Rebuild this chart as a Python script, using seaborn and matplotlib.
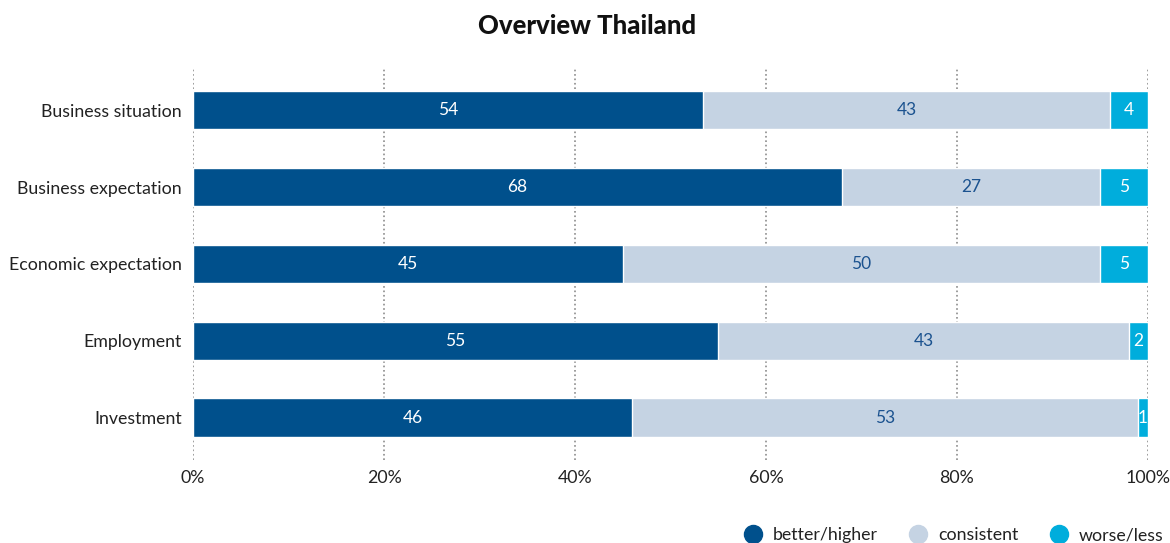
import numpy as np
import pandas as pd
import matplotlib.pyplot as plt
from matplotlib.lines import Line2D
import seaborn as sns

# data
categories = ["Business situation", "Business expectation", "Economic expectation",
              "Employment", "Investment"]
better = [54, 68, 45, 55, 46]
consistent = [43, 27, 50, 43, 53]
worse = [4, 5, 5, 2, 1]
series_names = ["better/higher", "consistent", "worse/less"]
colors = ["#00508C", "#C5D3E3", "#00ADDC"]
text_colors = ["white", "#1B528F", "white"]

sns.set_theme(style="white")
plt.rcParams["font.family"] = ["Lato", "DejaVu Sans"]

vals = np.array([better, consistent, worse], dtype=float)
shares = vals / vals.sum(axis=0) * 100
cum = np.cumsum(shares, axis=0)

fig = plt.figure(figsize=(11.7, 5.43), dpi=100)
ax = fig.add_axes([0.165, 0.153, 0.816, 0.722])

# layered bars: draw the widest cumulative first
for i in [2, 1, 0]:
    df = pd.DataFrame({"cat": categories, "val": cum[i]})
    sns.barplot(data=df, x="val", y="cat", orient="h", color=colors[i],
                saturation=1, width=0.5, ax=ax, zorder=2)

# segment labels
for i in range(3):
    start = cum[i] - shares[i]
    for j, c in enumerate(categories):
        ax.text(start[j] + shares[i][j] / 2, j, f"{int(vals[i][j])}",
                ha="center", va="center", color=text_colors[i], fontsize=12.5, zorder=3)

ax.set_xlim(0, 100)
ax.set_ylim(4.55, -0.55)
ax.set_xticks(range(0, 101, 20))
ax.set_xticklabels([f"{t}%" for t in range(0, 101, 20)], fontsize=12.8, color="#222222")
ax.tick_params(axis="y", labelsize=12.8, length=0, pad=8, labelcolor="#222222")
ax.tick_params(axis="x", length=0, pad=7)
ax.set_xlabel("")
ax.set_ylabel("")
ax.grid(axis="x", linestyle=":", color="#8c8c8c", linewidth=1.2, zorder=0)
ax.set_axisbelow(True)
for s in ax.spines.values():
    s.set_visible(False)

fig.text(0.502, 0.952, "Overview Thailand", ha="center", va="center",
         fontsize=18.5, fontweight="black", color="#111111")

handles = [Line2D([0], [0], marker="o", linestyle="", markersize=13,
                  markerfacecolor=c, markeredgecolor=c) for c in colors]
fig.legend(handles, series_names, loc="lower right", bbox_to_anchor=(1.008, -0.03),
           ncol=3, frameon=False, fontsize=12.8, handletextpad=0.1, columnspacing=1.3,
           labelcolor="#222222")

fig.savefig("out.png", dpi=100)
